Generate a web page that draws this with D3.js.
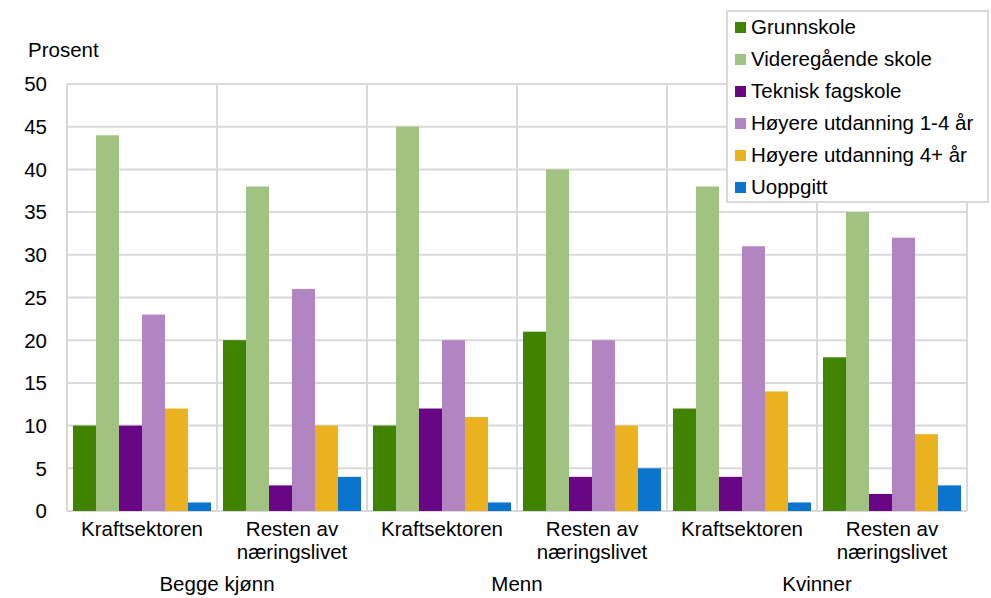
<!DOCTYPE html>
<html><head><meta charset="utf-8">
<script src="https://cdn.jsdelivr.net/npm/d3@7"></script>
<style>body{margin:0;background:#fff}svg{display:block;font-family:"Liberation Sans",Arial,sans-serif}</style>
</head><body><svg id="c" width="991" height="598"></svg>
<script>
const groups = ["Begge kjønn","Menn","Kvinner"];
const sectors = ["Kraftsektoren","Resten av næringslivet"];
const sectorLines = [["Kraftsektoren"],["Resten av","næringslivet"]];
const series = ["Grunnskole","Videregående skole","Teknisk fagskole","Høyere utdanning 1-4 år","Høyere utdanning 4+ år","Uoppgitt"];
const colors = ["#3f8300","#a0c382","#680686","#b384c2","#ebb220","#0a74cf"];
// values per category (Begge-Kraft, Begge-Resten, Menn-Kraft, Menn-Resten, Kvinner-Kraft, Kvinner-Resten)
const grunnskole   = [10,20,10,21,12,18];
const videregaende = [44,38,45,40,38,35];
const teknisk      = [10, 3,12, 4, 4, 2];
const hoyere14     = [23,26,20,20,31,32];
const hoyere4      = [12,10,11,10,14, 9];
const uoppgitt     = [ 1, 4, 1, 5, 1, 3];
const yTicks = [0,5,10,15,20,25,30,35,40,45,50];

const values = [grunnskole,videregaende,teknisk,hoyere14,hoyere4,uoppgitt];
const cats = [];
groups.forEach((g,gi)=>sectors.forEach((s,si)=>cats.push({id:gi*2+si,group:g,sector:si})));

const FS = 20.5;
const svg = d3.select("#c");
const L=67,R=967,T=84,B=511;
const x = d3.scaleBand().domain(cats.map(c=>c.id)).range([L,R]).paddingInner(0).paddingOuter(0);
const xi = d3.scaleBand().domain(d3.range(series.length)).range([0,x.bandwidth()]).paddingOuter(0.26).paddingInner(0);
const y = d3.scaleLinear().domain([0,50]).range([B,T]);

const grid = svg.append("g");
grid.selectAll("line.h").data(yTicks).join("line").attr("x1",L).attr("x2",R)
  .attr("y1",d=>y(d)).attr("y2",d=>y(d)).attr("stroke","#d9d9d9").attr("stroke-width",2);
const vx = cats.map(c=>x(c.id)).concat([R]);
grid.selectAll("line.v").data(vx).join("line").attr("x1",d=>d).attr("x2",d=>d)
  .attr("y1",T).attr("y2",B).attr("stroke","#d9d9d9").attr("stroke-width",2);

series.forEach((s,si)=>{
  svg.append("g").selectAll("rect").data(cats).join("rect")
    .attr("x",c=>x(c.id)+xi(si)).attr("width",xi.bandwidth())
    .attr("y",c=>y(values[si][c.id])).attr("height",c=>B-y(values[si][c.id]))
    .attr("fill",colors[si]);
});

svg.append("g").selectAll("text").data(yTicks).join("text")
  .attr("x",47).attr("y",d=>y(d)).attr("dy","0.36em").attr("text-anchor","end")
  .attr("font-size",FS).attr("fill","#000").text(d=>d);
svg.append("text").attr("x",28).attr("y",57).attr("font-size",FS).text("Prosent");

const xl = svg.append("g");
cats.forEach(c=>{
  sectorLines[c.sector].forEach((t,i)=>{
    xl.append("text").attr("x",x(c.id)+x.bandwidth()/2).attr("y",536+i*23)
      .attr("text-anchor","middle").attr("font-size",FS).text(t);
  });
});
groups.forEach((g,gi)=>{
  xl.append("text").attr("x",x(gi*2)+x.bandwidth()).attr("y",591)
    .attr("text-anchor","middle").attr("font-size",FS).text(g);
});

const lg = svg.append("g");
lg.append("rect").attr("x",727).attr("y",11).attr("width",261).attr("height",191)
  .attr("fill","#fff").attr("stroke","#d9d9d9").attr("stroke-width",2);
series.forEach((s,i)=>{
  const cy = 27+i*32;
  lg.append("rect").attr("x",735).attr("y",cy-5).attr("width",11).attr("height",11).attr("fill",colors[i]);
  lg.append("text").attr("x",751).attr("y",cy).attr("dy","0.36em").attr("font-size",FS).text(s);
});
</script></body></html>
